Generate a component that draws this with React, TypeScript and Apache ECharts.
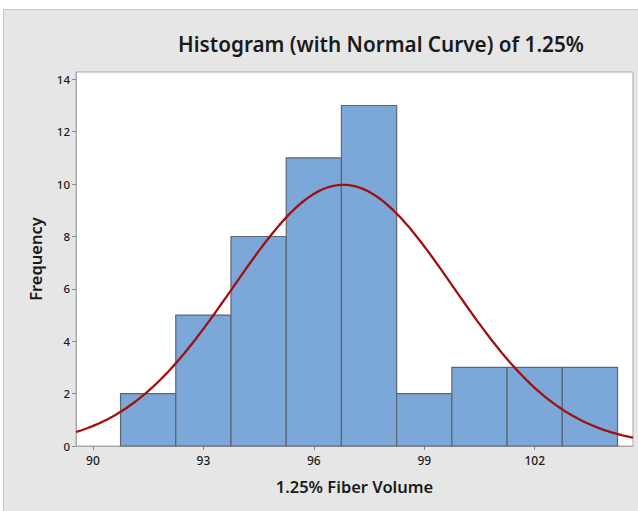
import React, { useEffect, useRef } from "react";
import * as echarts from "echarts";

// Histogram bins of 1.25% fiber volume (width 1.5)
const binEdges = [90.75, 92.25, 93.75, 95.25, 96.75, 98.25, 99.75, 101.25, 102.75, 104.25];
const counts = [2, 5, 8, 11, 13, 2, 3, 3, 3];

// Fitted normal distribution
const fitMean = 96.8;
const fitStDev = 3.0;
const sampleSize = 50;

const xTicks = [90, 93, 96, 99, 102];
const yTicks = [0, 2, 4, 6, 8, 10, 12, 14];

const X_MIN = 89.54;
const X_MAX = 104.67;
const Y_MAX = 14.28;

const FONT = "'Noto Sans', 'Open Sans', sans-serif";

function normalCurve(): number[][] {
  const binWidth = binEdges[1] - binEdges[0];
  const scale = (sampleSize * binWidth) / (fitStDev * Math.sqrt(2 * Math.PI));
  const pts: number[][] = [];
  const steps = 200;
  for (let i = 0; i <= steps; i++) {
    const x = X_MIN + ((X_MAX - X_MIN) * i) / steps;
    const z = (x - fitMean) / fitStDev;
    pts.push([x, scale * Math.exp(-0.5 * z * z)]);
  }
  return pts;
}

export default function App() {
  const ref = useRef<HTMLDivElement>(null);

  useEffect(() => {
    document.body.style.margin = "0";
    if (!ref.current) return;
    const chart = echarts.init(ref.current, undefined, { renderer: "svg" });

    const bars = counts.map((c, i) => [binEdges[i], binEdges[i + 1], c]);

    chart.setOption({
      animation: false,
      backgroundColor: "#ffffff",
      textStyle: { fontFamily: FONT },
      graphic: [
        {
          type: "rect",
          z: -10,
          silent: true,
          shape: { x: 3.5, y: 9.5, width: 640, height: 510 },
          style: { fill: "#e6e6e6", stroke: "#c8c8c8", lineWidth: 1 },
        },
        {
          type: "text",
          x: 381,
          y: 44,
          style: {
            text: "Histogram (with Normal Curve) of 1.25%",
            fontFamily: FONT,
            fontSize: 20.7,
            fontWeight: 600,
            fill: "#1a1a1a",
            textAlign: "center",
            textVerticalAlign: "middle",
          },
        },
      ],
      grid: {
        left: 76,
        top: 72,
        right: 5,
        bottom: 65,
        show: true,
        backgroundColor: "#ffffff",
        borderColor: "#a9a9a9",
        borderWidth: 1,
      },
      xAxis: {
        type: "value",
        min: X_MIN,
        max: X_MAX,
        name: "1.25% Fiber Volume",
        nameLocation: "middle",
        nameGap: 32,
        nameTextStyle: { fontFamily: FONT, fontSize: 16.5, fontWeight: 600, color: "#1a1a1a" },
        axisLine: { show: true, lineStyle: { color: "#a9a9a9" } },
        axisTick: { show: true, length: 4, customValues: xTicks, lineStyle: { color: "#8a8a8a" } },
        axisLabel: {
          customValues: xTicks,
          fontFamily: FONT,
          fontSize: 12,
          fontWeight: 500,
          color: "#1a1a1a",
          margin: 8,
        },
        splitLine: { show: false },
      },
      yAxis: {
        type: "value",
        min: 0,
        max: Y_MAX,
        name: "Frequency",
        nameLocation: "middle",
        nameGap: 32,
        nameTextStyle: { fontFamily: FONT, fontSize: 16.5, fontWeight: 600, color: "#1a1a1a" },
        axisLine: { show: true, lineStyle: { color: "#a9a9a9" } },
        axisTick: { show: true, length: 4, customValues: yTicks, lineStyle: { color: "#8a8a8a" } },
        axisLabel: {
          customValues: yTicks,
          fontFamily: FONT,
          fontSize: 11.5,
          fontWeight: 500,
          color: "#1a1a1a",
          margin: 6,
        },
        splitLine: { show: false },
      },
      series: [
        {
          type: "custom",
          data: bars,
          encode: { x: [0, 1], y: 2 },
          renderItem: (params: any, api: any) => {
            const p0 = api.coord([api.value(0), api.value(2)]);
            const p1 = api.coord([api.value(1), 0]);
            return {
              type: "rect",
              shape: { x: p0[0], y: p0[1], width: p1[0] - p0[0], height: p1[1] - p0[1] },
              style: { fill: "#7ba7d9", stroke: "#5c6670", lineWidth: 1.2 },
            };
          },
          z: 2,
        },
        {
          type: "line",
          data: normalCurve(),
          showSymbol: false,
          symbol: "none",
          smooth: false,
          clip: true,
          lineStyle: { color: "#a01010", width: 2.3 },
          z: 3,
        },
      ],
    });

    return () => chart.dispose();
  }, []);

  return <div ref={ref} style={{ width: 638, height: 511 }} />;
}
